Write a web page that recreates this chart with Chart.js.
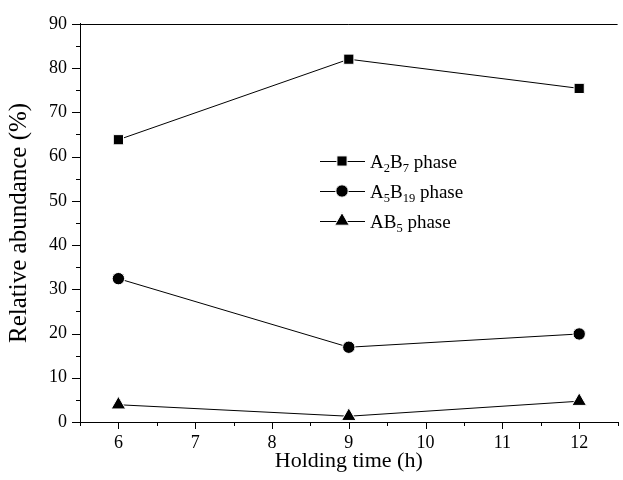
<!DOCTYPE html>
<html><head><meta charset="utf-8">
<script src="https://cdn.jsdelivr.net/npm/chart.js@4.4.1/dist/chart.umd.min.js"></script>
<style>
html,body{margin:0;padding:0;background:#fff;overflow:hidden}
#wrap{width:623px;height:480px;overflow:hidden;position:relative}
canvas{display:block}
</style>
</head><body><div id="wrap"><canvas id="c" width="627" height="480"></canvas></div>
<script>
// ---- data ----
const holdingTimes = [6, 9, 12];
const a2b7Values = [63.8, 82.0, 75.4];
const a5b19Values = [32.4, 16.9, 19.9];
const ab5Values = [3.9, 1.3, 4.7];
const xTickValues = [6, 7, 8, 9, 10, 11, 12];
const yTickValues = [0, 10, 20, 30, 40, 50, 60, 70, 80, 90];
// legend labels: [text, isSubscript]
const a2b7Label = [["A", 0], ["2", 1], ["B", 0], ["7", 1], [" phase", 0]];
const a5b19Label = [["A", 0], ["5", 1], ["B", 0], ["19", 1], [" phase", 0]];
const ab5Label = [["AB", 0], ["5", 1], [" phase", 0]];
const xTitle = "Holding time (h)";
const yTitle = "Relative abundance (%)";

const FONT = '"Liberation Serif","Times New Roman",serif';

function toXY(ys) { return holdingTimes.map((x, i) => ({x: x, y: ys[i]})); }

const seriesDefs = [
  {label: a2b7Label, data: a2b7Values, style: 'rect', r: 7.2},
  {label: a5b19Label, data: a5b19Values, style: 'circle', r: 6.2},
  {label: ab5Label, data: ab5Values, style: 'triangle', r: 8.4}
];

function drawMarker(ctx, style, r, x, y) {
  ctx.save();
  ctx.fillStyle = '#000';
  ctx.strokeStyle = '#fff';
  ctx.lineWidth = 1;
  ctx.beginPath();
  if (style === 'rect') {
    const s = Math.SQRT1_2 * r;
    ctx.rect(x - s, y - s, 2 * s, 2 * s);
  } else if (style === 'circle') {
    ctx.arc(x, y, r, 0, Math.PI * 2);
  } else {
    ctx.moveTo(x, y - r);
    ctx.lineTo(x + 0.866 * r, y + 0.5 * r);
    ctx.lineTo(x - 0.866 * r, y + 0.5 * r);
    ctx.closePath();
  }
  ctx.fill();
  ctx.stroke();
  ctx.restore();
}

const axesPlugin = {
  id: 'axesPlugin',
  afterDraw(chart) {
    const ctx = chart.ctx;
    const ca = chart.chartArea;
    const xs = chart.scales.x, ys = chart.scales.y;
    ctx.save();
    ctx.strokeStyle = '#000';
    ctx.lineWidth = 1;
    // top frame line
    ctx.beginPath();
    ctx.moveTo(ca.left, Math.round(ca.top) + 0.5);
    ctx.lineTo(ca.right, Math.round(ca.top) + 0.5);
    ctx.stroke();
    // x ticks (major + minor)
    for (let v = xs.min; v <= xs.max + 1e-9; v += 0.5) {
      const px = Math.round(xs.getPixelForValue(v)) + 0.5;
      const len = Math.abs(v - Math.round(v)) < 1e-9 ? 7 : 4;
      ctx.beginPath();
      ctx.moveTo(px, ca.bottom);
      ctx.lineTo(px, ca.bottom + len);
      ctx.stroke();
    }
    // y ticks
    for (let v = ys.min; v <= ys.max + 1e-9; v += 5) {
      const py = Math.round(ys.getPixelForValue(v)) + 0.5;
      const len = (v % 10 === 0) ? 8 : 4;
      ctx.beginPath();
      ctx.moveTo(ca.left - len, py);
      ctx.lineTo(ca.left, py);
      ctx.stroke();
    }
    // legend
    const rows = [161, 191, 221];
    seriesDefs.forEach((s, i) => {
      const y = rows[i];
      ctx.beginPath();
      ctx.moveTo(320, y + 0.5);
      ctx.lineTo(365, y + 0.5);
      ctx.stroke();
      drawMarker(ctx, s.style, s.r, 342, y);
      let x = 370;
      ctx.fillStyle = '#000';
      ctx.textBaseline = 'alphabetic';
      ctx.textAlign = 'left';
      s.label.forEach(([t, sub]) => {
        ctx.font = (sub ? '12.5px ' : '19px ') + FONT;
        ctx.fillText(t, x, y + 6.5 + (sub ? 4 : 0));
        x += ctx.measureText(t).width;
      });
    });
    ctx.restore();
  }
};

const datasets = seriesDefs.map(s => ({
  data: toXY(s.data),
  borderColor: '#000',
  borderWidth: 1,
  backgroundColor: '#000',
  pointStyle: s.style,
  pointRadius: s.r,
  pointHoverRadius: s.r,
  pointBackgroundColor: '#000',
  pointBorderColor: '#fff',
  pointBorderWidth: 1,
  tension: 0,
  clip: false
}));

new Chart(document.getElementById('c'), {
  type: 'line',
  data: {datasets},
  options: {
    responsive: false,
    animation: false,
    events: [],
    layout: {padding: {top: 18, left: 0, right: 0, bottom: 0}},
    plugins: {legend: {display: false}, tooltip: {enabled: false}},
    scales: {
      x: {
        type: 'linear', position: 'bottom', min: 5.5, max: 12.5,
        afterBuildTicks: sc => { sc.ticks = xTickValues.map(v => ({value: v})); },
        afterFit: sc => { sc.height = 58; },
        grid: {display: true, drawOnChartArea: false, drawTicks: false},
        border: {display: true, color: '#000', width: 1},
        ticks: {color: '#000', font: {family: FONT, size: 18}, padding: 10, maxRotation: 0, autoSkip: false},
        title: {display: true, text: xTitle, color: '#000', font: {family: FONT, size: 22}, padding: {top: 0, bottom: 6}}
      },
      y: {
        type: 'linear', min: 0, max: 90,
        afterBuildTicks: sc => { sc.ticks = yTickValues.map(v => ({value: v})); },
        afterFit: sc => { sc.width = 80; },
        grid: {display: true, drawOnChartArea: false, drawTicks: false},
        border: {display: true, color: '#000', width: 1},
        ticks: {color: '#000', font: {family: FONT, size: 18}, padding: 13, autoSkip: false},
        title: {display: true, text: yTitle, color: '#000', font: {family: FONT, size: 25}, padding: {top: 4, bottom: 0}}
      }
    }
  },
  plugins: [axesPlugin]
});
</script>
</body></html>
